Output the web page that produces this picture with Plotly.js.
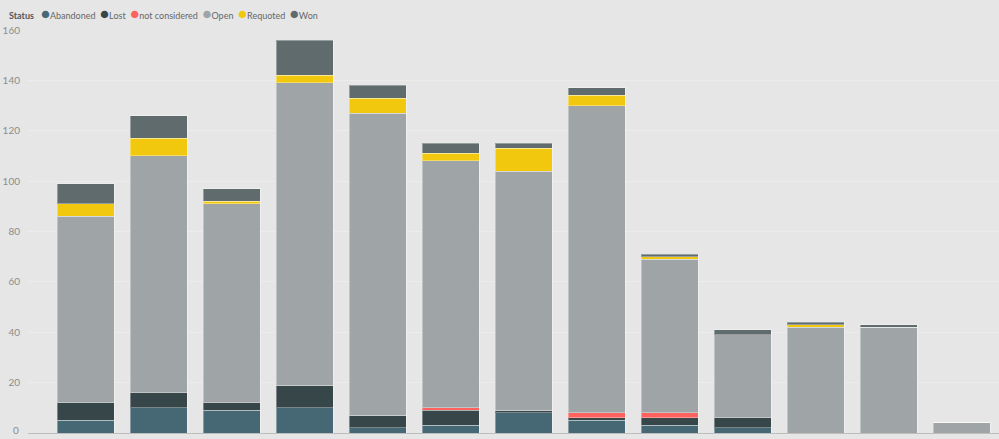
<!DOCTYPE html>
<html>
<head>
<meta charset="utf-8">
<script src="https://cdn.plot.ly/plotly-3.0.1.min.js"></script>
<style>
  html, body { margin: 0; padding: 0; background: #e6e6e6; overflow: hidden; }
  #Status { width: 999px; height: 439px; }
</style>
</head>
<body>
<div id="Status"></div>
<script>
// Categories (labels are not shown in the chart)
var periods = ["P01", "P02", "P03", "P04", "P05", "P06", "P07", "P08", "P09", "P10", "P11", "P12", "P13"];

// Series values per status
var abandoned     = [5, 10, 9, 10, 2, 3, 8, 5, 3, 2, 0, 0, 0];
var lost          = [7, 6, 3, 9, 5, 6, 1, 1, 3, 4, 0, 0, 0];
var notConsidered = [0, 0, 0, 0, 0, 1, 0, 2, 2, 0, 0, 0, 0];
var open          = [74, 94, 79, 120, 120, 98, 95, 122, 61, 33, 42, 42, 4];
var requoted      = [5, 7, 1, 3, 6, 3, 9, 4, 1, 0, 1, 0, 0];
var won           = [8, 9, 5, 14, 5, 4, 2, 3, 1, 2, 1, 1, 0];

var yTicks = [0, 20, 40, 60, 80, 100, 120, 140, 160];

var names  = ["Abandoned", "Lost", "not considered", "Open", "Requoted", "Won"];
var series = [abandoned, lost, notConsidered, open, requoted, won];
var colors = ["#466874", "#374649", "#fd625e", "#9fa5a6", "#f2c80f", "#5f6b6d"];

// Define Data
var data = [];
for (let i = 0; i < names.length; i++) {
  data.push({
    type: "bar",
    name: names[i],
    x: periods,
    y: series[i],
    marker: {color: colors[i], line: {color: "rgba(255,255,255,0.35)", width: 1}},
    showlegend: false
  });
}

// Legend as one line of text with coloured dots
var legendText = "<span style='color:#555555'><b>Status</b></span>\u00a0\u00a0\u00a0";
for (let i = 0; i < names.length; i++) {
  legendText += "<span style='color:" + colors[i] + ";font-size:15px'>\u25cf</span>" + names[i] + "\u00a0\u00a0";
}

//Define Layout
var layout = {
  width: 999,
  height: 439,
  margin: {l: 28, r: 0, t: 30, b: 6},
  paper_bgcolor: "#e6e6e6",
  plot_bgcolor: "#e6e6e6",
  font: {family: "Lato, 'Open Sans', sans-serif", size: 9, color: "#777777"},
  barmode: "stack",
  bargap: 0.22,
  xaxis: {
    type: "category",
    range: [-0.79, 12.51],
    showticklabels: false,
    showgrid: false,
    zeroline: false,
    showline: true,
    linecolor: "#bdbdbd",
    linewidth: 1,
    ticks: ""
  },
  yaxis: {
    range: [0, 160],
    tickmode: "array",
    // the bottom "0" label is drawn as an annotation below
    tickvals: yTicks.slice(1),
    ticktext: yTicks.slice(1).map(String),
    showgrid: true,
    gridcolor: "#ececec",
    gridwidth: 1,
    zeroline: false,
    ticks: "",
    automargin: false,
    ticklabelstandoff: 7,
    tickfont: {size: 10, color: "#8c8c8c"}
  },
  annotations: [{
    xref: "paper", yref: "paper",
    x: 0, y: 1,
    xshift: -21, yshift: 17,
    xanchor: "left", yanchor: "middle",
    showarrow: false,
    text: legendText,
    font: {size: 9, color: "#666666"}
  }, {
    xref: "paper", yref: "paper",
    x: 0, y: 0,
    xshift: -7, yshift: 3,
    xanchor: "right", yanchor: "middle",
    showarrow: false,
    text: String(yTicks[0]),
    font: {size: 10, color: "#8c8c8c"}
  }]
};

// Display using Plotly
Plotly.newPlot("Status", data, layout, {displayModeBar: false, staticPlot: true});
</script>
</body>
</html>
